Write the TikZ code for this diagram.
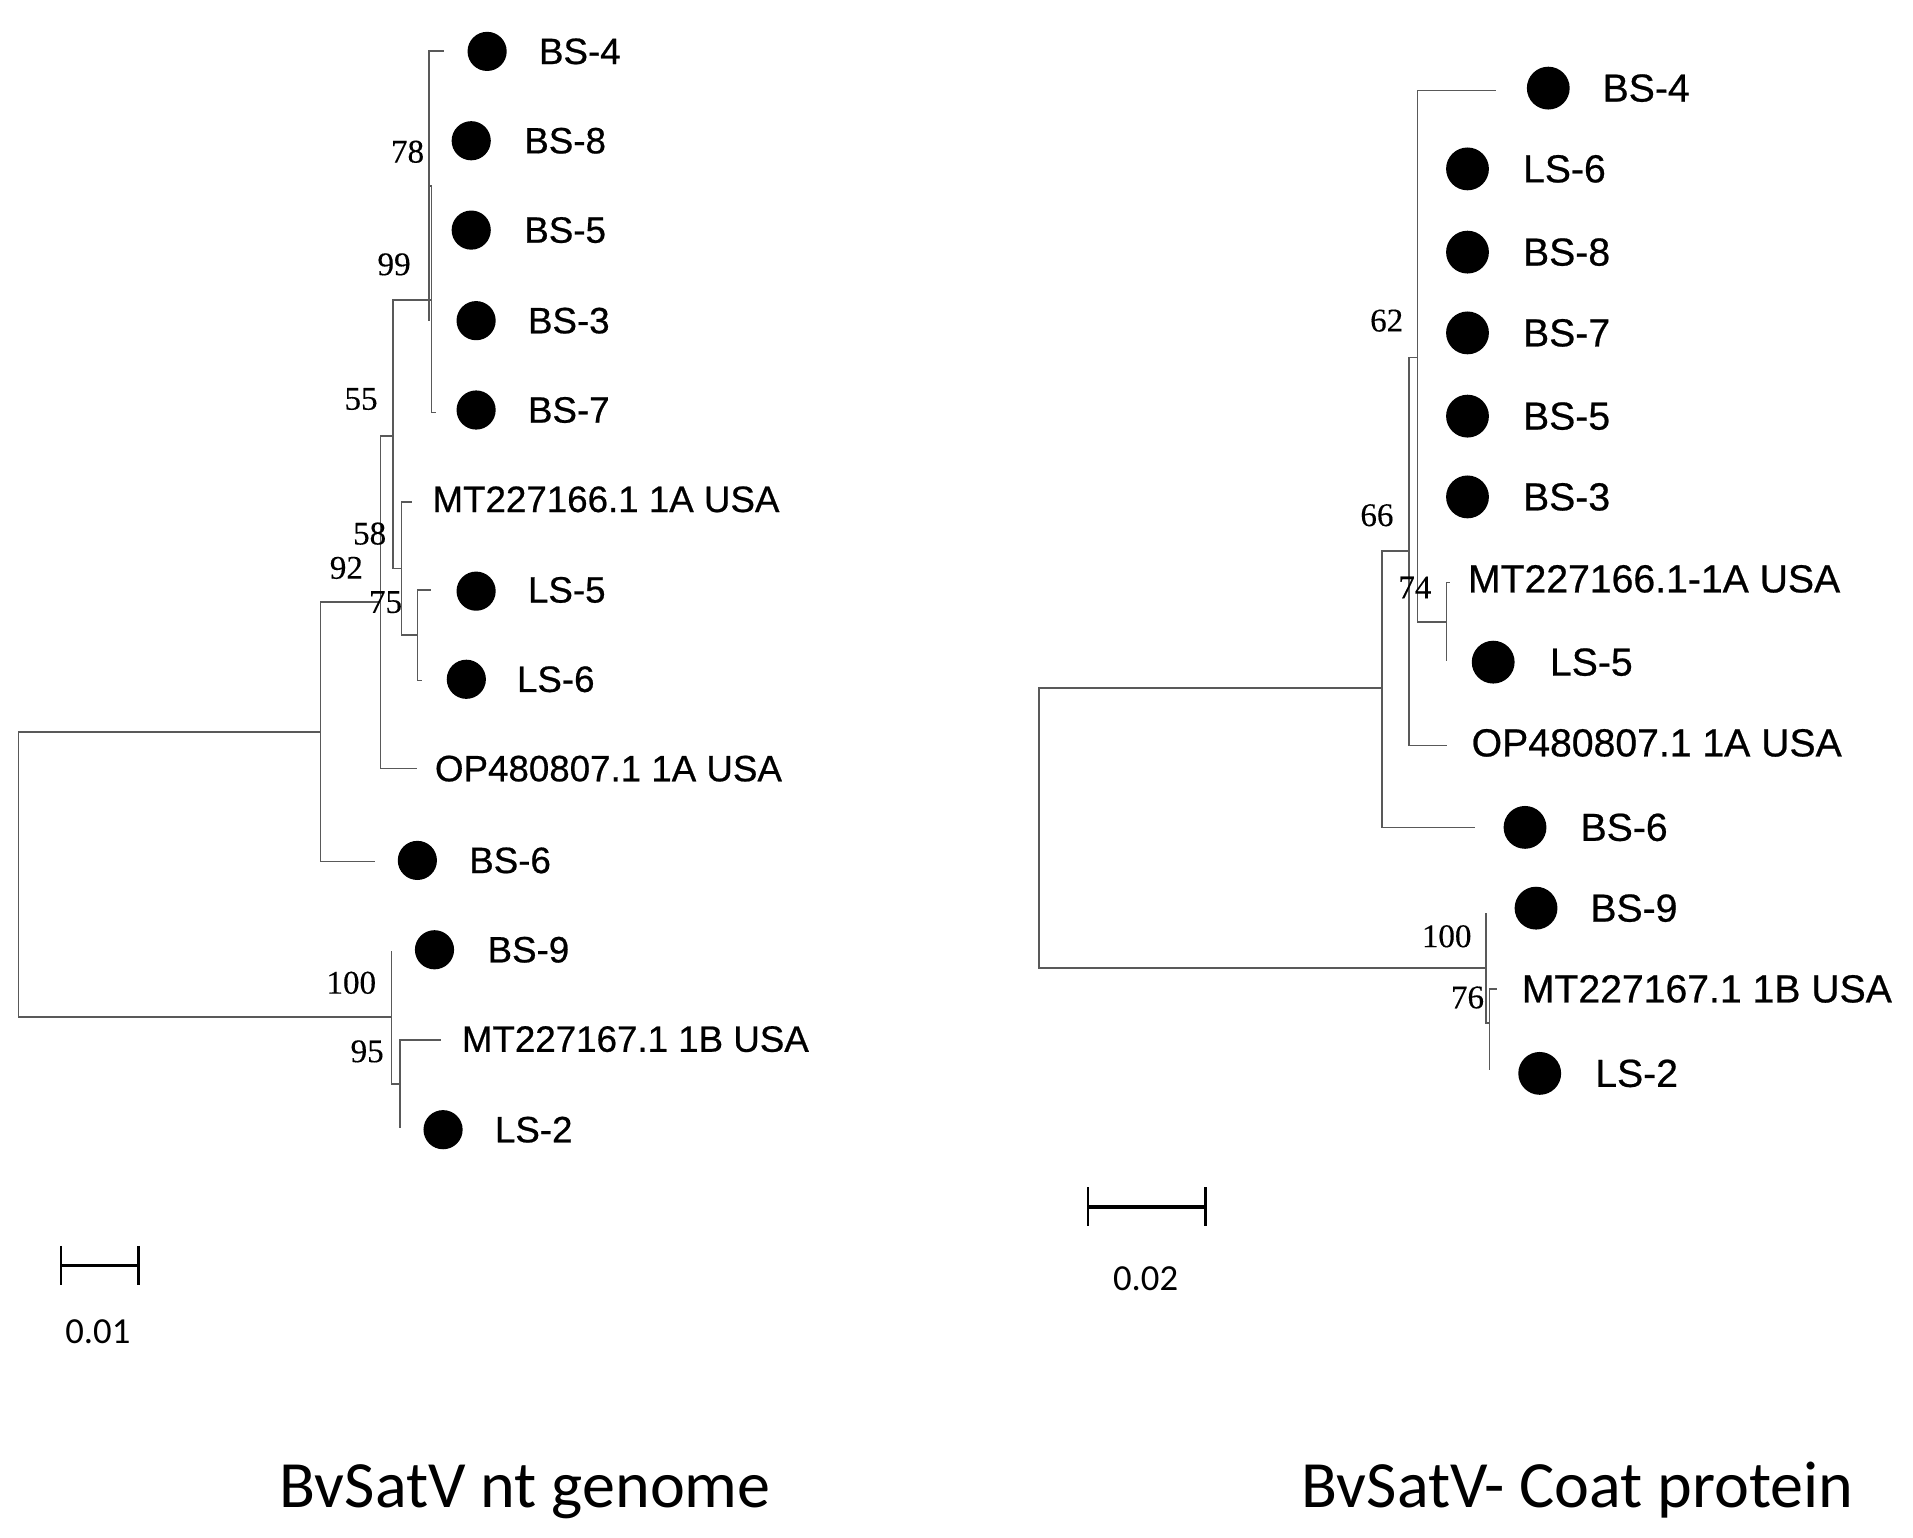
\documentclass[tikz,border=0pt]{standalone}
\usepackage{fontspec}
\newfontfamily\labfont[FakeBold=0.6]{Liberation Sans}
\newfontfamily\bootfont[FakeBold=0.3]{Liberation Serif}
\newfontfamily\ttlfont{Carlito}
\begin{document}
\begin{tikzpicture}[x=0.5pt,y=-0.5pt,
  branch/.style={draw=black!65,line width=0.65pt},
  tipdotL/.style={circle,fill=black,inner sep=0pt,minimum size=16pt},
  tipdotR/.style={circle,fill=black,inner sep=0pt,minimum size=17.5pt},
  tipL/.style={anchor=west,inner sep=0pt,font=\labfont\fontsize{15}{18}\selectfont},
  tipR/.style={anchor=west,inner sep=0pt,font=\labfont\fontsize{16}{19}\selectfont},
  boot/.style={inner sep=0pt,font=\bootfont\fontsize{13.5}{16}\selectfont},
  ttl/.style={anchor=base west,inner sep=0pt,font=\ttlfont\fontsize{27}{32}\selectfont},
  sclab/.style={inner sep=0pt,font=\ttlfont\fontsize{15}{18}\selectfont},
  scbar/.style={draw=black,line width=1.4pt}]
\useasboundingbox[fill=white] (0,0) rectangle (1563,1256.6);

% ---------------- left tree ----------------
\coordinate (L0) at (15,714.5);
\coordinate (LM) at (262,598);
\coordinate (LA) at (311,492);
\coordinate (LB) at (321,356);
\coordinate (L99) at (352.6,245);
\coordinate (L78) at (350.6,152);
\coordinate (LC) at (328,464.5);
\coordinate (LD) at (341,519);
\coordinate (LK) at (320,831);
\coordinate (LL) at (327,885.5);
% tip ends
\coordinate (eBS4) at (363,41.6);
\coordinate (eBS8) at (350.6,115);
\coordinate (eBS5) at (350.6,188);
\coordinate (eBS3) at (350.6,262);
\coordinate (eBS7) at (356,337);
\coordinate (eMT1) at (336.5,410);
\coordinate (eLS5) at (352,482);
\coordinate (eLS6) at (345,556);
\coordinate (eOP) at (341,628);
\coordinate (eBS6) at (306,704);
\coordinate (eBS9) at (320,777);
\coordinate (eMT2) at (360,849.5);
\coordinate (eLS2) at (327,922);

\path[branch] (L0) |- (LM);
\path[branch] (L0) |- (LK);
\path[branch] (LM) |- (LA);
\path[branch] (LM) |- (eBS6);
\path[branch] (LA) |- (LB);
\path[branch] (LA) |- (eOP);
\path[branch] (LB) |- (L99);
\path[branch] (LB) |- (LC);
\path[branch] (L99) |- (L78);
\path[branch] (L99) |- (eBS7);
\path[branch] (L78) |- (eBS4);
\path[branch] (L78) |- (eBS3);
\path[branch] (LC) |- (eMT1);
\path[branch] (LC) |- (LD);
\path[branch] (LD) |- (eLS5);
\path[branch] (LD) |- (eLS6);
\path[branch] (LK) |- (eBS9);
\path[branch] (LK) |- (LL);
\path[branch] (LL) |- (eMT2);
\path[branch] (LL) |- (eLS2);

% dots and labels
\node[tipdotL] (dBS4) at (398,42) {};  \node[tipL] (tBS4) at (440,42) {BS-4};
\node[tipdotL] (dBS8) at (385,115) {}; \node[tipL] (tBS8) at (428,115) {BS-8};
\node[tipdotL] (dBS5) at (385,188) {}; \node[tipL] (tBS5) at (428,188) {BS-5};
\node[tipdotL] (dBS3) at (389,262) {}; \node[tipL] (tBS3) at (431,262) {BS-3};
\node[tipdotL] (dBS7) at (389,335) {}; \node[tipL] (tBS7) at (431,335) {BS-7};
\node[tipL] (tMT1) at (353,408) {MT227166.1 1A USA};
\node[tipdotL] (dLS5) at (389,483) {}; \node[tipL] (tLS5) at (431,482) {LS-5};
\node[tipdotL] (dLS6) at (381,555) {}; \node[tipL] (tLS6) at (422,555) {LS-6};
\node[tipL] (tOP) at (355,628) {OP480807.1 1A USA};
\node[tipdotL] (dBS6) at (341,703) {}; \node[tipL] (tBS6) at (383,703) {BS-6};
\node[tipdotL] (dBS9) at (355,776) {}; \node[tipL] (tBS9) at (398,776) {BS-9};
\node[tipL] (tMT2) at (377,849) {MT227167.1 1B USA};
\node[tipdotL] (dLS2) at (362,923) {}; \node[tipL] (tLS2) at (404,923) {LS-2};

\node[boot] (b78) at (333,124) {78};
\node[boot] (b99) at (322,216) {99};
\node[boot] (b55) at (295,326) {55};
\node[boot] (b58) at (302,436) {58};
\node[boot] (b92) at (283,464) {92};
\node[boot] (b75) at (315,492) {75};
\node[boot] (b100L) at (287,803) {100};
\node[boot] (b95) at (300,859) {95};

% scale bar left
\coordinate (sL1) at (50,1034);
\coordinate (sL2) at (113,1034);
\path[scbar] (sL1) -- (sL2);
\path[scbar,line width=1pt] ([yshift=8pt]sL1) -- ([yshift=-8pt]sL1);
\path[scbar,line width=1pt] ([yshift=8pt]sL2) -- ([yshift=-8pt]sL2);
\node[sclab] (sLl) at (80,1088) {0.01};

% ---------------- right tree ----------------
\coordinate (R0) at (849,677);
\coordinate (RE) at (1129,562);
\coordinate (RG) at (1151,450);
\coordinate (RJ) at (1158,292);
\coordinate (RH) at (1182,508);
\coordinate (RF) at (1214,791);
\coordinate (RI) at (1217,836);
\coordinate (fBS4) at (1222,74);
\coordinate (fLS6) at (1158,138);
\coordinate (fBS3) at (1158,406);
\coordinate (fMT1) at (1185,476);
\coordinate (fLS5) at (1182,540);
\coordinate (fOP) at (1182,609);
\coordinate (fBS6) at (1205,676);
\coordinate (fBS9) at (1214,746);
\coordinate (fMT2) at (1223,808);
\coordinate (fLS2) at (1217,874);

\path[branch] (R0) |- (RE);
\path[branch] (R0) |- (RF);
\path[branch] (RE) |- (RG);
\path[branch] (RE) |- (fBS6);
\path[branch] (RG) |- (RJ);
\path[branch] (RG) |- (fOP);
\path[branch] (RJ) |- (fBS4);
\path[branch] (RJ) |- (RH);
\path[branch] (RH) |- (fMT1);
\path[branch] (RH) |- (fLS5);
\path[branch] (RF) |- (fBS9);
\path[branch] (RF) |- (RI);
\path[branch] (RI) |- (fMT2);
\path[branch] (RI) |- (fLS2);

\node[tipdotR] (gBS4) at (1265,72) {};  \node[tipR] (uBS4) at (1309,72) {BS-4};
\node[tipdotR] (gLS6) at (1199,138) {}; \node[tipR] (uLS6) at (1244,138) {LS-6};
\node[tipdotR] (gBS8) at (1199,206) {}; \node[tipR] (uBS8) at (1244,206) {BS-8};
\node[tipdotR] (gBS7) at (1199,272) {}; \node[tipR] (uBS7) at (1244,272) {BS-7};
\node[tipdotR] (gBS5) at (1199,340) {}; \node[tipR] (uBS5) at (1244,340) {BS-5};
\node[tipdotR] (gBS3) at (1199,406) {}; \node[tipR] (uBS3) at (1244,406) {BS-3};
\node[tipR] (uMT1) at (1199,473) {MT227166.1-1A USA};
\node[tipdotR] (gLS5) at (1220,541) {}; \node[tipR] (uLS5) at (1266,541) {LS-5};
\node[tipR] (uOP) at (1202,607) {OP480807.1 1A USA};
\node[tipdotR] (gBS6) at (1246,676) {}; \node[tipR] (uBS6) at (1291,676) {BS-6};
\node[tipdotR] (gBS9) at (1255,742) {}; \node[tipR] (uBS9) at (1299,742) {BS-9};
\node[tipR] (uMT2) at (1243,808) {MT227167.1 1B USA};
\node[tipdotR] (gLS2) at (1258,877) {}; \node[tipR] (uLS2) at (1303,877) {LS-2};

\node[boot] (b62) at (1133,262) {62};
\node[boot] (b66) at (1125,421) {66};
\node[boot] (b74) at (1156,480) {74};
\node[boot] (b100R) at (1182,765) {100};
\node[boot] (b76) at (1199,815) {76};

% scale bar right
\coordinate (sR1) at (889,986);
\coordinate (sR2) at (985,986);
\path[scbar] (sR1) -- (sR2);
\path[scbar,line width=1pt] ([yshift=8pt]sR1) -- ([yshift=-8pt]sR1);
\path[scbar,line width=1pt] ([yshift=8pt]sR2) -- ([yshift=-8pt]sR2);
\node[sclab] (sRl) at (936,1045) {0.02};

% titles
\node[ttl] (title1) at (228,1232) {BvSatV nt genome};
\node[ttl] (title2) at (1063,1232) {BvSatV- Coat protein};
\end{tikzpicture}
\end{document}
